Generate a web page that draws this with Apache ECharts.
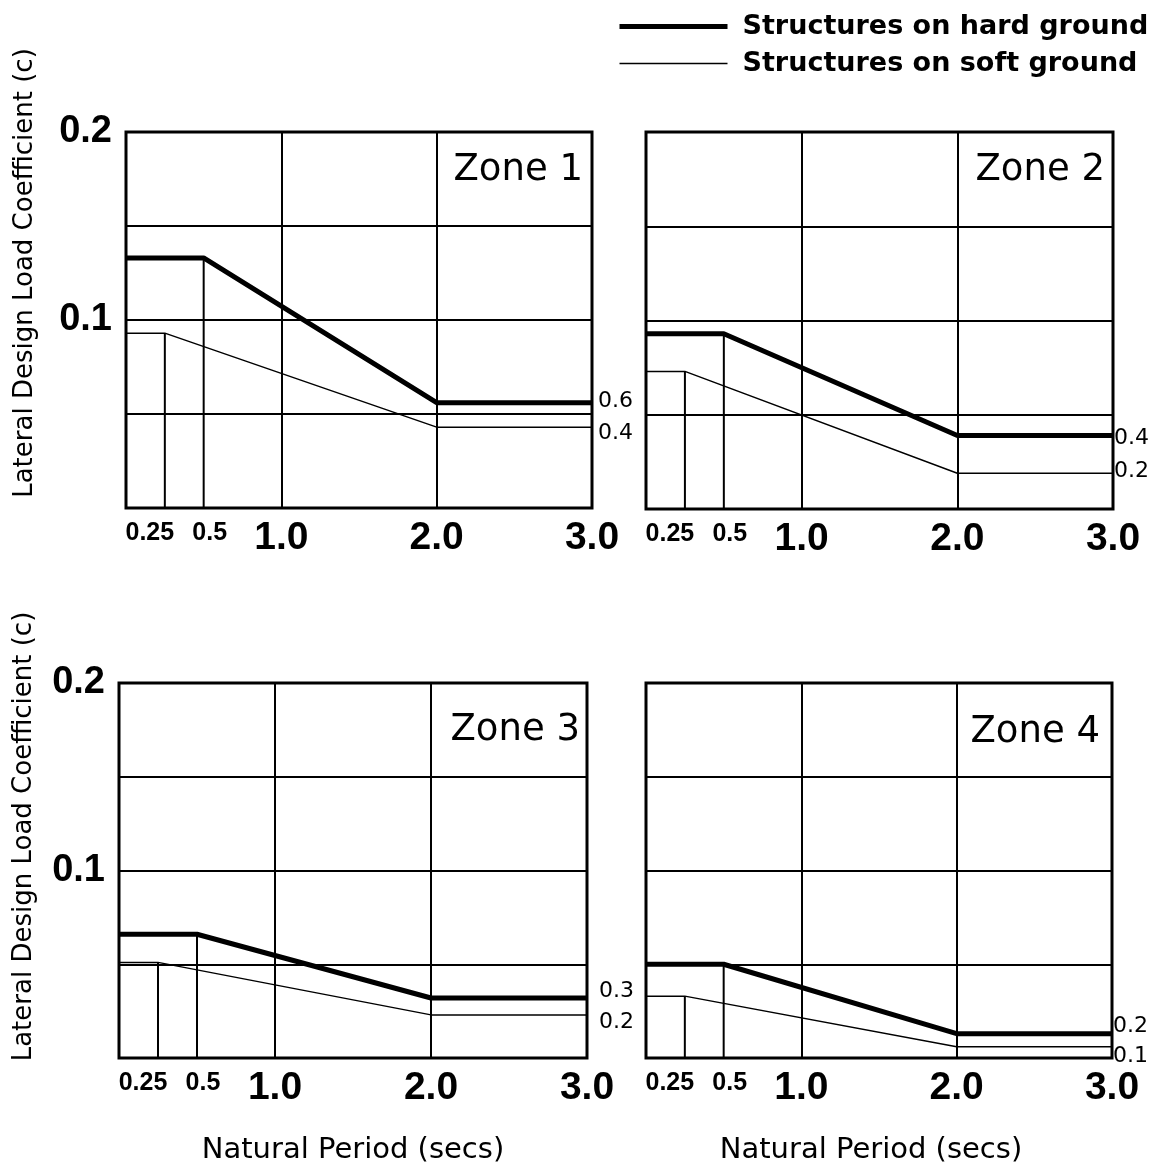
<!DOCTYPE html>
<html>
<head>
<meta charset="utf-8">
<script src="https://cdn.jsdelivr.net/npm/echarts@6/dist/echarts.min.js"></script>
<style>
html, body { margin: 0; padding: 0; background: #fff; }
#main { width: 1162px; height: 1173px; }
</style>
</head>
<body>
<div id="main"></div>
<script>
// values
var zoneNames = ['Zone 1', 'Zone 2', 'Zone 3', 'Zone 4']
var hardX = [0, 0.5, 2.0, 3.0]      // break points, hard ground
var softX = [0, 0.25, 2.0, 3.0]     // break points, soft ground
var hardStart = [0.133, 0.093, 0.066, 0.050]
var hardEnd = [0.056, 0.039, 0.032, 0.013]
var softStart = [0.093, 0.073, 0.051, 0.033]
var softEnd = [0.043, 0.019, 0.023, 0.006]
var hardTag = ['0.6', '0.4', '0.3', '0.2']
var softTag = ['0.4', '0.2', '0.2', '0.1']
var xTicks = [0.25, 0.5, 1.0, 2.0, 3.0]
var yTicks = [0.1, 0.2]
var hardName = 'Structures on hard ground'
var softName = 'Structures on soft ground'

var chart = echarts.init(document.getElementById('main'))

// layout
var grids = [
    {left: 126, top: 132, width: 466, height: 376},
    {left: 646, top: 132, width: 467, height: 377},
    {left: 119, top: 683, width: 468, height: 375},
    {left: 646, top: 683, width: 466, height: 375}
]
var titlePos = [
    {right: 579, top: 152},
    {right: 57, top: 152},
    {right: 582, top: 712},
    {right: 62, top: 714}
]
var tagOffset = [
    {hard: [2, -1], soft: [2, 6]},
    {hard: [-3, 3], soft: [-3, -2]},
    {hard: [8, -7], soft: [8, 7]},
    {hard: [-3, -7], soft: [-3, 10]}
]

function pts(xs, a, b) {
    return [[xs[0], a], [xs[1], a], [xs[2], b], [xs[3], b]]
}

var xAxes = [], yAxes = [], series = [], titles = []

grids.forEach(function (g, i) {
    var bottomRow = i >= 2
    var leftCol = i % 2 == 0
    xAxes.push({
        type: 'value', gridIndex: i, min: 0, max: 3, interval: 1,
        axisLine: {show: false}, axisTick: {show: false},
        splitLine: {show: true, lineStyle: {color: '#000', width: 2}},
        axisLabel: {
            customValues: xTicks,
            margin: 11,
            formatter: function (v) {
                if (v < 1) return '{' + (v == 0.25 ? 'a' : 'b') + '|' + String(v) + '}'
                return '{c|' + v.toFixed(1) + '}'
            },
            rich: {
                a: {fontFamily: 'Liberation Sans', fontWeight: 'bold', fontSize: 25, color: '#000', padding: [2, 30, 0, 0]},
                b: {fontFamily: 'Liberation Sans', fontWeight: 'bold', fontSize: 25, color: '#000', padding: [2, 0, 0, 12]},
                c: {fontFamily: 'Liberation Sans', fontWeight: 'bold', fontSize: 39, color: '#000'}
            }
        },
        name: bottomRow ? 'Natural Period (secs)' : '',
        nameLocation: 'middle',
        nameGap: 78,
        nameTextStyle: {fontFamily: 'DejaVu Sans', fontSize: 29, color: '#000', padding: i == 3 ? [0, 16, 0, 0] : 0}
    })
    yAxes.push({
        type: 'value', gridIndex: i, min: 0, max: 0.2, interval: 0.05,
        axisLine: {show: false}, axisTick: {show: false},
        splitLine: {show: true, lineStyle: {color: '#000', width: 2}},
        axisLabel: {
            show: leftCol,
            customValues: yTicks,
            margin: 14,
            formatter: function (v) { return v.toFixed(1) },
            fontFamily: 'Liberation Sans', fontWeight: 'bold', fontSize: 38, color: '#000',
            padding: [6, 0, 0, 0]
        },
        name: leftCol ? 'Lateral Design Load Coefficient (c)' : '',
        nameLocation: 'middle',
        nameGap: bottomRow ? 82 : 88,
        nameTextStyle: {fontFamily: 'DejaVu Sans', fontSize: 26, color: '#000', padding: [0, 0, 0, bottomRow ? 68 : 94]}
    })
    titles.push({
        text: zoneNames[i], right: titlePos[i].right, top: titlePos[i].top, padding: 0,
        textStyle: {fontFamily: 'DejaVu Sans', fontWeight: 'normal', fontSize: 37, color: '#000'}
    })

    var tagStyle = {fontFamily: 'DejaVu Sans', fontSize: 22, color: '#000', distance: 4}
    series.push({
        name: hardName, type: 'line', xAxisIndex: i, yAxisIndex: i,
        data: pts(hardX, hardStart[i], hardEnd[i]),
        symbol: 'none', itemStyle: {color: '#000'}, lineStyle: {color: '#000', width: 5}, z: 4,
        endLabel: Object.assign({show: true, formatter: hardTag[i], offset: tagOffset[i].hard}, tagStyle)
    })
    series.push({
        name: softName, type: 'line', xAxisIndex: i, yAxisIndex: i,
        data: pts(softX, softStart[i], softEnd[i]),
        symbol: 'none', itemStyle: {color: '#000'}, lineStyle: {color: '#000', width: 1.5}, z: 3,
        endLabel: Object.assign({show: true, formatter: softTag[i], offset: tagOffset[i].soft}, tagStyle)
    })
    // drop lines under the corners
    series.push({
        type: 'line', xAxisIndex: i, yAxisIndex: i,
        data: [[softX[1], softStart[i]], [softX[1], 0]],
        symbol: 'none', lineStyle: {color: '#000', width: 2}, z: 2
    })
    series.push({
        type: 'line', xAxisIndex: i, yAxisIndex: i,
        data: [[hardX[1], hardStart[i]], [hardX[1], 0]],
        symbol: 'none', lineStyle: {color: '#000', width: 2}, z: 2
    })
})

var option = {
    backgroundColor: '#fff',
    animation: false,
    title: titles,
    legend: {
        data: [
            {name: hardName, lineStyle: {color: '#000', width: 5}, itemStyle: {opacity: 0}},
            {name: softName, lineStyle: {color: '#000', width: 1.5}, itemStyle: {opacity: 0}}
        ],
        orient: 'vertical', left: 612, top: 8,
        itemWidth: 108, itemHeight: 14, itemGap: 10,
        selectedMode: false,
        textStyle: {fontFamily: 'DejaVu Sans', fontWeight: 'bold', fontSize: 27, color: '#000', padding: [0, 0, 0, 10]}
    },
    grid: grids.map(function (g) {
        return Object.assign({show: true, borderColor: '#000', borderWidth: 3, backgroundColor: 'transparent'}, g)
    }),
    xAxis: xAxes,
    yAxis: yAxes,
    series: series
}

chart.setOption(option)
</script>
</body>
</html>
